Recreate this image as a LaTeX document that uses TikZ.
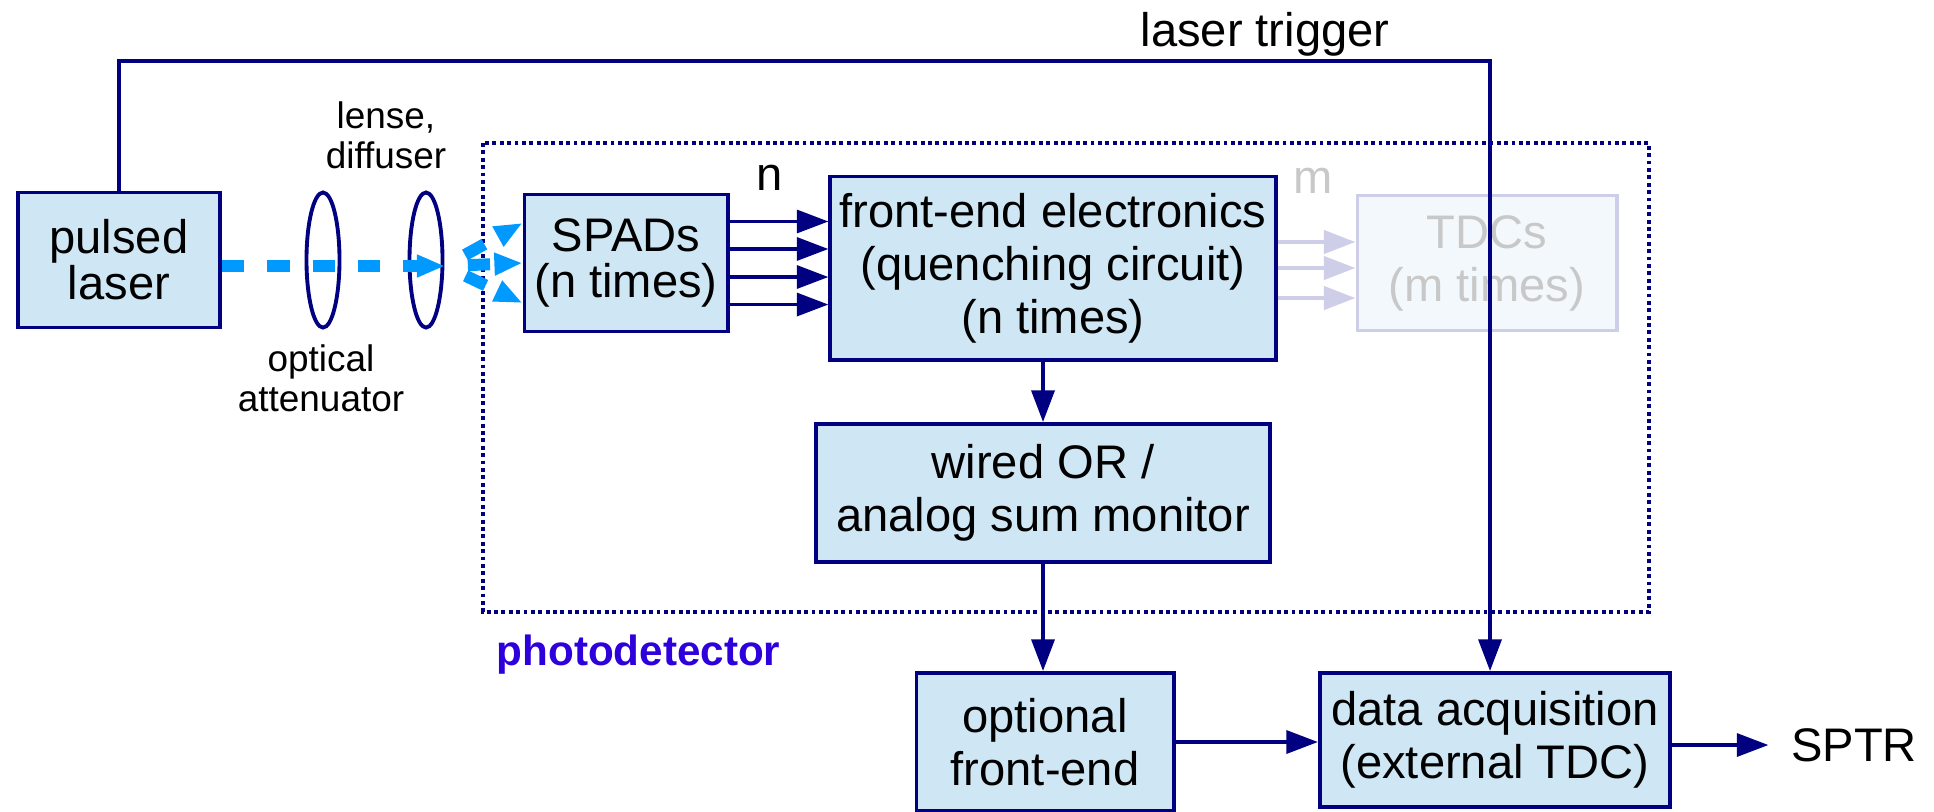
\documentclass[tikz,border=0pt]{standalone}
\usepackage{fontspec}
\setmainfont{Liberation Sans}
\usetikzlibrary{arrows.meta,shapes.geometric}

\definecolor{navy}{RGB}{0,0,128}
\definecolor{boxfill}{RGB}{207,231,245}
\definecolor{beamblue}{RGB}{0,153,255}
\definecolor{ghostfill}{RGB}{243,248,252}
\definecolor{ghostline}{RGB}{206,206,232}
\definecolor{ghosttext}{RGB}{200,200,200}
\definecolor{pdblue}{RGB}{45,0,220}

\begin{document}
\begin{tikzpicture}[x=0.01cm, y=-0.01cm,
    >={Triangle[length=9pt,width=6.5pt]},
    block/.style={draw=navy, line width=1.1pt, fill=boxfill, align=center,
      inner sep=0pt, font=\fontsize{13.4}{15.1}\selectfont},
    tight/.style={font=\fontsize{13.4}{13.1}\selectfont},
    ghost/.style={block, draw=ghostline, fill=ghostfill, text=ghosttext},
    lens/.style={ellipse, draw=navy, line width=1.1pt, inner sep=0pt,
      minimum width=0.33cm, minimum height=1.35cm},
    sig/.style={->, navy, line width=1.1pt},
    fade/.style={->, ghostline, line width=1.4pt},
    beam/.style={->, beamblue, line width=3.4pt, dash pattern=on 6.3pt off 6.6pt,
      >={Triangle[length=8pt,width=6pt]}},
    txt/.style={inner sep=0pt, font=\fontsize{13.4}{15.1}\selectfont},
    small/.style={inner sep=0pt, align=center, font=\fontsize{10.5}{11.4}\selectfont}]
    \useasboundingbox (0,0) rectangle (1934,811);

    % detector frame
    \draw[navy, line width=1.1pt, dash pattern=on 1.1pt off 1pt] (483,143) rectangle (1649,612);
    \node[anchor=west, inner sep=0pt, text=pdblue, font=\bfseries\fontsize{12}{14}\selectfont]
      (pdlabel) at (496,655) {photodetector};

    % optics
    \node[block, tight, minimum width=2.02cm, minimum height=1.35cm] (laser) at (119,260) {pulsed\\laser};
    \node[lens] (att) at (323,260) {};
    \node[lens] (diff) at (426,260) {};
    \node[small] (attlabel) at (321,378) {optical\\attenuator};
    \node[small] (difflabel) at (386,135) {lense,\\diffuser};

    % readout chain
    \node[block, tight, minimum width=2.03cm, minimum height=1.37cm] (spads) at (626,263) {SPADs\\(n times)};
    \node[block, minimum width=4.45cm, minimum height=1.83cm] (fe) at (1053,268)
      {front-end electronics\\(quenching circuit)\\(n times)};
    \node[ghost, minimum width=2.59cm, minimum height=1.35cm] (tdc) at (1487,263) {TDCs\\(m times)};
    \node[block, minimum width=4.54cm, minimum height=1.38cm] (wor) at (1043,493) {wired OR /\\analog sum monitor};
    \node[block, minimum width=2.57cm, minimum height=1.38cm] (opt) at (1045,742) {optional\\front-end};
    \node[block, minimum width=3.50cm, minimum height=1.34cm] (daq) at (1495,740) {data acquisition\\(external TDC)};
    \node[txt] (sptr) at (1854,745) {SPTR};
    \node[txt] (nlabel) at (770,178) {n};
    \node[txt, text=ghosttext] (mlabel) at (1313,181) {m};
    \node[txt] (trglabel) at (1265,34) {laser trigger};

    % light path
    \coordinate (focus) at (445,266);
    \draw[beam] (laser.east |- focus) -- (focus);
    \foreach \dy in {0.4,0,-0.4}
      \draw[beam, dash phase=6.4pt] (focus) -- ([yshift=\dy cm]spads.west);

    % signals
    \foreach \dy in {0.415,0.14,-0.14,-0.415}
      \draw[sig] ([yshift=\dy cm]spads.east) -- ([yshift=\dy cm]spads.east -| fe.west);
    \foreach \dy in {0.26,0,-0.3}
      \draw[fade] ([yshift=\dy cm]fe.east) -- ([yshift=\dy cm]fe.east -| tdc.west);
    \draw[sig] (fe.south -| wor) -- (wor.north);
    \draw[sig] (wor.south) -- (wor.south |- opt.north);
    \draw[sig] (opt.east) -- (opt.east -| daq.west);
    \draw[sig] (daq.east |- sptr) -- ([xshift=-0.22cm]sptr.west);

    \coordinate (trig) at (1490,61);
    \draw[sig] (laser.north) |- (trig) -- (trig |- daq.north);
\end{tikzpicture}
\end{document}
